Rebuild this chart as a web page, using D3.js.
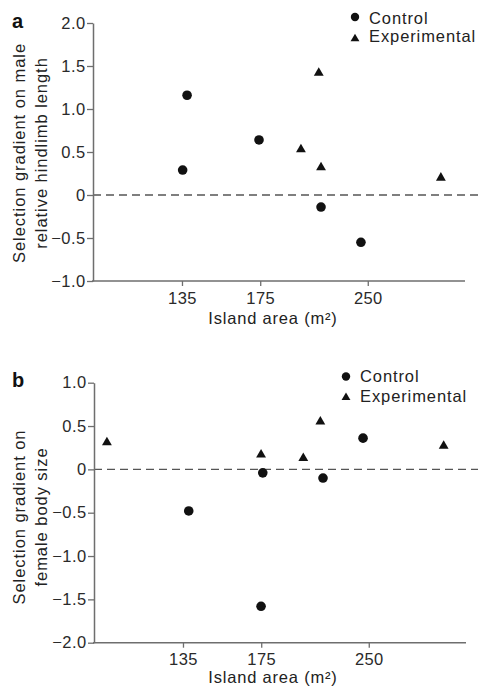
<!DOCTYPE html>
<html>
<head>
<meta charset="utf-8">
<script src="https://cdn.jsdelivr.net/npm/d3@7"></script>
<style>
  html, body { margin: 0; padding: 0; background: #fff; }
  svg { display: block; }
  text { font-family: "Liberation Sans", Arial, Helvetica, sans-serif; fill: #222; }
</style>
</head>
<body>
<svg id="chart" width="479" height="687"></svg>
<script>
// ---- Data ----
const areaTicks = [135, 175, 250];
const areaTickLabels = ["135", "175", "250"];
const yTicksA = [2, 1.5, 1, 0.5, 0, -0.5, -1];
const yTickLabelsA = ["2.0", "1.5", "1.0", "0.5", "0", "\u22120.5", "\u22121.0"];
const yTicksB = [1, 0.5, 0, -0.5, -1, -1.5, -2];
const yTickLabelsB = ["1.0", "0.5", "0", "\u22120.5", "\u22121.0", "\u22121.5", "\u22122.0"];
const seriesNames = ["Control", "Experimental"];

// Panel a: selection gradient on male relative hindlimb length
const aControlArea = [135.3, 137.3, 174.3, 214.1, 244.4];
const aControlValue = [0.29, 1.16, 0.64, -0.14, -0.55];
const aExpArea = [212.5, 200.3, 214.1, 318.6];
const aExpValue = [1.42, 0.53, 0.32, 0.20];

// Panel b: selection gradient on female body size
const bControlArea = [137.6, 175.9, 174.9, 214.8, 245.3];
const bControlValue = [-0.48, -0.04, -1.58, -0.10, 0.36];
const bExpArea = [104.9, 174.9, 201.2, 212.9, 320.5];
const bExpValue = [0.31, 0.17, 0.13, 0.55, 0.27];

// ---- Drawing ----
const svg = d3.select("#chart");
const AXIS_COLOR = "#6e6e6e";
const MARK_COLOR = "#111";

function zip(xs, ys) { return xs.map((x, i) => ({ x, y: ys[i] })); }

const panels = [
  {
    letter: "a", letterY: 27.5,
    left: 93, right: 464, top: 23, bottom: 281,
    yDomain: [-1, 2], yTicks: yTicksA, yLabels: yTickLabelsA,
    titleLines: ["Selection gradient on male", "relative hindlimb length"],
    titleCY: 153, xTitleOffset: 42.5,
    control: zip(aControlArea, aControlValue),
    exp: zip(aExpArea, aExpValue),
    legend: { x: 355, cy: 17, ty1: 23.5, tri: 38.8, ty2: 42 }
  },
  {
    letter: "b", letterY: 386.5,
    left: 94, right: 465, top: 382.7, bottom: 642.7,
    yDomain: [-2, 1], yTicks: yTicksB, yLabels: yTickLabelsB,
    titleLines: ["Selection gradient on", "female body size"],
    titleCY: 517, xTitleOffset: 40,
    control: zip(bControlArea, bControlValue),
    exp: zip(bExpArea, bExpValue),
    legend: { x: 346, cy: 376.5, ty1: 381.5, tri: 397.5, ty2: 401.5 }
  }
];

panels.forEach(p => {
  const x = d3.scaleLog().domain([100.5, 344]).range([p.left, p.right]);
  const y = d3.scaleLinear().domain(p.yDomain).range([p.bottom, p.top]);
  const g = svg.append("g");

  // zero dashed reference line
  g.append("line")
    .attr("x1", p.left).attr("x2", 478)
    .attr("y1", y(0)).attr("y2", y(0))
    .attr("stroke", "#555").attr("stroke-width", 1.4)
    .attr("stroke-dasharray", "8,5");

  // y axis
  const yAxis = d3.axisLeft(y)
    .tickValues(p.yTicks)
    .tickFormat((d, i) => p.yLabels[i])
    .tickSizeInner(6).tickSizeOuter(0).tickPadding(1.5);
  const ya = g.append("g").attr("transform", `translate(${p.left},0)`).call(yAxis);
  ya.select(".domain").attr("stroke", AXIS_COLOR).attr("stroke-width", 1.5);
  ya.selectAll(".tick line").attr("stroke", AXIS_COLOR).attr("stroke-width", 1.3);
  ya.selectAll(".tick text")
    .style("font-family", '"Liberation Sans", Arial, sans-serif')
    .style("font-size", "16.5px").style("fill", "#2a2a2a")
    .attr("letter-spacing", "0.4px");

  // x axis
  const xAxis = d3.axisBottom(x)
    .tickValues(areaTicks)
    .tickFormat((d, i) => areaTickLabels[i])
    .tickSizeInner(5).tickSizeOuter(0).tickPadding(6);
  const xa = g.append("g").attr("transform", `translate(0,${p.bottom})`).call(xAxis);
  xa.select(".domain").attr("stroke", AXIS_COLOR).attr("stroke-width", 1.5)
    .attr("d", `M${p.left - 1},0H${p.right + 1}`);
  xa.selectAll(".tick line").attr("stroke", AXIS_COLOR).attr("stroke-width", 1.3);
  xa.selectAll(".tick text")
    .style("font-family", '"Liberation Sans", Arial, sans-serif')
    .style("font-size", "16.5px").style("fill", "#2a2a2a")
    .attr("letter-spacing", "0.4px");

  // x axis title
  g.append("text")
    .attr("x", 273).attr("y", p.bottom + p.xTitleOffset)
    .attr("text-anchor", "middle")
    .style("font-size", "16.5px")
    .attr("letter-spacing", "0.8px")
    .text("Island area (m\u00B2)");

  // y axis title (two lines, rotated)
  p.titleLines.forEach((line, i) => {
    g.append("text")
      .attr("transform", `translate(${25 + i * 21.5},${p.titleCY}) rotate(-90)`)
      .attr("text-anchor", "middle")
      .style("font-size", "16.5px")
      .attr("letter-spacing", "0.95px")
      .text(line);
  });

  // panel letter
  g.append("text")
    .attr("x", 12).attr("y", p.letterY)
    .style("font-size", "20px").style("font-weight", "bold").style("fill", "#111")
    .text(p.letter);

  // control circles
  g.selectAll("circle.ctrl").data(p.control).enter().append("circle")
    .attr("class", "ctrl")
    .attr("cx", d => x(d.x)).attr("cy", d => y(d.y))
    .attr("r", 4.8).attr("fill", MARK_COLOR);

  // experimental triangles
  const tri = d3.symbol().type(d3.symbolTriangle).size(42);
  g.selectAll("path.exp").data(p.exp).enter().append("path")
    .attr("class", "exp")
    .attr("d", tri)
    .attr("transform", d => `translate(${x(d.x)},${y(d.y)})`)
    .attr("fill", MARK_COLOR);

  // legend
  const L = p.legend;
  g.append("circle").attr("cx", L.x).attr("cy", L.cy).attr("r", 4.2).attr("fill", MARK_COLOR);
  g.append("path").attr("d", d3.symbol().type(d3.symbolTriangle).size(34)())
    .attr("transform", `translate(${L.x},${L.tri})`).attr("fill", MARK_COLOR);
  g.append("text").attr("x", L.x + 14).attr("y", L.ty1)
    .style("font-size", "16.5px").attr("letter-spacing", "0.9px").text(seriesNames[0]);
  g.append("text").attr("x", L.x + 14).attr("y", L.ty2)
    .style("font-size", "16.5px").attr("letter-spacing", "0.9px").text(seriesNames[1]);
});
</script>
</body>
</html>
